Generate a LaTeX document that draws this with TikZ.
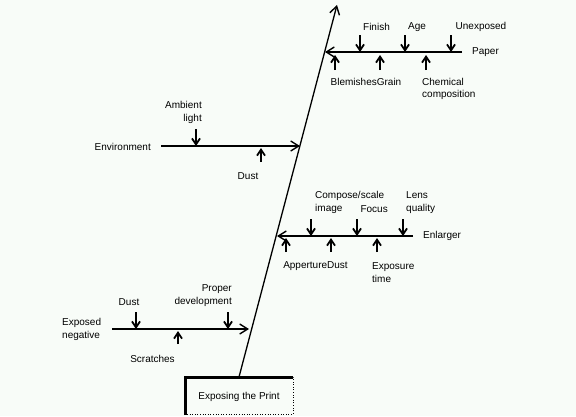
\documentclass[tikz,border=0pt]{standalone}
\usepackage{fontspec}
\setmainfont{Liberation Sans}
\usetikzlibrary{arrows.meta}
\definecolor{bgc}{RGB}{248,252,248}
\begin{document}
\begin{tikzpicture}[x=1pt,y=-1pt,
  lbl/.style={inner sep=0pt,font=\fontsize{10}{12.5}\selectfont},
  spinel/.style={line width=1.3pt,-{Straight Barb[length=8pt,width=10pt,line width=1.4pt]}},
  branch/.style={line width=2pt,-{Straight Barb[length=8pt,width=10pt,line width=1.4pt]}},
  cause/.style={line width=1.4pt,-{Straight Barb[length=6pt,width=8pt,line width=1.8pt]}}]
\useasboundingbox[fill=bgc] (0,0) rectangle (576,416);
% effect box
\draw[line width=0.6pt,dotted] (185,377) rectangle (293,414);
\draw[line width=3pt] (185,415) -- (185,377) -- (293,377);
\node[lbl] (effect) at (239,397) {Exposing the Print};
% spine
\coordinate (sb) at (239,377);
\coordinate (st) at (337,5);
\draw[spinel] (sb) -- (st);
% Paper
\coordinate (p0) at (462,52); \coordinate (p1) at (325,52);
\draw[branch] (p0) -- (p1);
\node[lbl,anchor=west] (paper) at (472,52) {Paper};
\node[lbl] (finish) at (376.5,27) {Finish};
\node[lbl] (age) at (417,27) {Age};
\node[lbl] (unexp) at (481,27) {Unexposed};
\node[lbl] (blem) at (366,82) {BlemishesGrain};
\node[lbl,anchor=west,align=left] (chem) at (422,89) {Chemical\\composition};
\foreach \x/\n in {360/a,405/b,451/c}{
  \coordinate (pu\n) at (\x,35); \coordinate (pue\n) at (\x,52);
  \draw[cause] (pu\n) -- (pue\n);}
\foreach \x/\n in {335/a,380/b,426/c}{
  \coordinate (pl\n) at (\x,70); \coordinate (ple\n) at (\x,55);
  \draw[cause] (pl\n) -- (ple\n);}
% Environment
\coordinate (e0) at (161,146); \coordinate (e1) at (300,146);
\draw[branch] (e0) -- (e1);
\node[lbl,anchor=east] (env) at (151,147) {Environment};
\node[lbl,anchor=east,align=right] (amb) at (202,112.5) {Ambient\\light};
\node[lbl] (edust) at (248,176) {Dust};
\coordinate (ea) at (196,129); \coordinate (eae) at (196,146);
\draw[cause] (ea) -- (eae);
\coordinate (eb) at (261,162); \coordinate (ebe) at (261,148);
\draw[cause] (eb) -- (ebe);
% Enlarger
\coordinate (n0) at (413,236); \coordinate (n1) at (277,236);
\draw[branch] (n0) -- (n1);
\node[lbl,anchor=west] (enl) at (423,236) {Enlarger};
\node[lbl,anchor=west,align=left] (comp) at (315,202.5) {Compose/scale\\image};
\node[lbl,anchor=east] (focus) at (388,209) {Focus};
\node[lbl,anchor=west,align=left] (lens) at (406,202.5) {Lens\\quality};
\node[lbl] (apdust) at (315.5,266) {AppertureDust};
\node[lbl,anchor=west,align=left] (expo) at (372,272.5) {Exposure\\time};
\foreach \x/\n in {311/a,357/b,403/c}{
  \coordinate (nu\n) at (\x,219); \coordinate (nue\n) at (\x,236);
  \draw[cause] (nu\n) -- (nue\n);}
\foreach \x/\n in {286/a,331/b,377/c}{
  \coordinate (nl\n) at (\x,252); \coordinate (nle\n) at (\x,238);
  \draw[cause] (nl\n) -- (nle\n);}
% Exposed negative
\coordinate (x0) at (112,329); \coordinate (x1) at (249,329);
\draw[branch] (x0) -- (x1);
\node[lbl,anchor=west,align=left] (expneg) at (62,329.5) {Exposed\\negative};
\node[lbl] (xdust) at (129,302) {Dust};
\node[lbl,anchor=east,align=right] (proper) at (232,295.5) {Proper\\development};
\node[lbl] (scr) at (152.5,359) {Scratches};
\coordinate (xa) at (136,312); \coordinate (xae) at (136,329);
\draw[cause] (xa) -- (xae);
\coordinate (xb) at (228,312); \coordinate (xbe) at (228,329);
\draw[cause] (xb) -- (xbe);
\coordinate (xc) at (178,344); \coordinate (xce) at (178,331);
\draw[cause] (xc) -- (xce);
\end{tikzpicture}
\end{document}
